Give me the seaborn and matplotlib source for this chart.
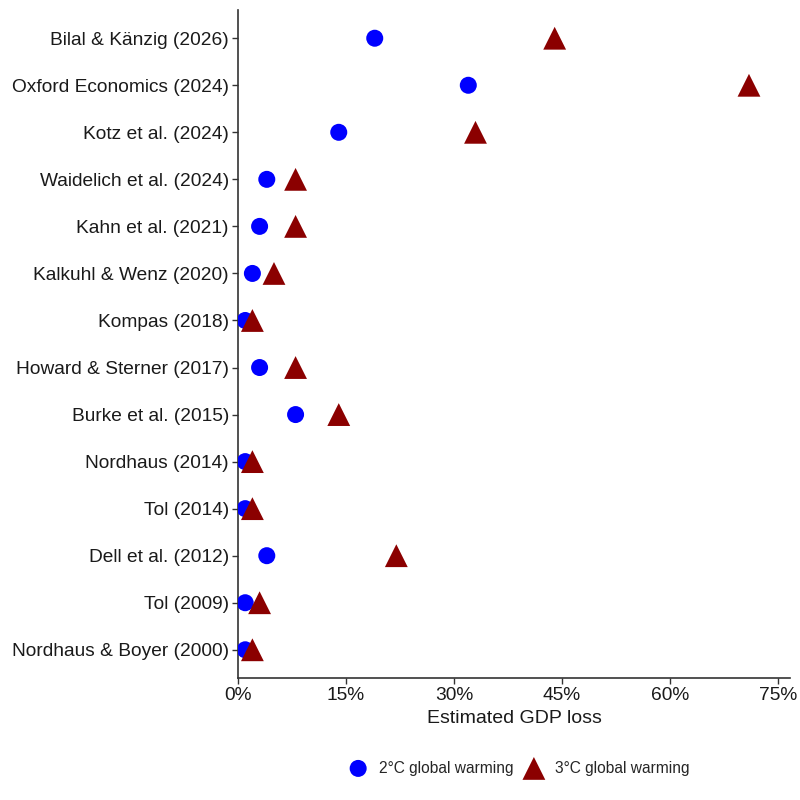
import matplotlib
matplotlib.use("Agg")
import matplotlib.pyplot as plt
import seaborn as sns
import pandas as pd
from matplotlib.ticker import FuncFormatter

studies = ["Bilal & Känzig (2026)", "Oxford Economics (2024)", "Kotz et al. (2024)",
           "Waidelich et al. (2024)", "Kahn et al. (2021)", "Kalkuhl & Wenz (2020)",
           "Kompas (2018)", "Howard & Sterner (2017)", "Burke et al. (2015)",
           "Nordhaus (2014)", "Tol (2014)", "Dell et al. (2012)", "Tol (2009)",
           "Nordhaus & Boyer (2000)"]
loss_2c = [19.0, 32.0, 14.0, 4.0, 3.0, 2.0, 1.0, 3.0, 8.0, 1.0, 1.0, 4.0, 1.0, 1.0]
loss_3c = [44.0, 71.0, 33.0, 8.0, 8.0, 5.0, 2.0, 8.0, 14.0, 2.0, 2.0, 22.0, 3.0, 2.0]
x_ticks = [0, 15, 30, 45, 60, 75]

sns.set_theme(style="ticks")
plt.rcParams['font.family'] = ['Liberation Sans', 'DejaVu Sans']

df2 = pd.DataFrame({"study": studies, "loss": loss_2c})
df3 = pd.DataFrame({"study": studies, "loss": loss_3c})

fig = plt.figure(figsize=(8, 8), dpi=100)
ax = fig.add_axes([0.2975, 0.1525, 0.69, 0.835])

sns.scatterplot(data=df2, x="loss", y="study", ax=ax, color="#0000FF", marker="o",
                s=150, edgecolor="none", label="2°C global warming", zorder=3)
sns.scatterplot(data=df3, x="loss", y="study", ax=ax, color="#8B0000", marker="^",
                s=270, edgecolor="none", label="3°C global warming", zorder=4)

ax.set_ylim(len(studies) - 0.4, -0.6)
ax.set_xlim(0, 76.7)
ax.set_xticks(x_ticks)
ax.xaxis.set_major_formatter(FuncFormatter(lambda v, p: f"{v:.0f}%"))
ax.set_ylabel("")
ax.set_xlabel("Estimated GDP loss", fontsize=14, color="#1a1a1a", labelpad=4)
ax.tick_params(axis="both", labelsize=13.8, colors="#333333", labelcolor="#1a1a1a",
               length=4, width=1)
ax.tick_params(axis="y", pad=2.5)
ax.tick_params(axis="x", pad=2.5)
for s in ["top", "right"]:
    ax.spines[s].set_visible(False)
for s in ["left", "bottom"]:
    ax.spines[s].set_color("#333333")
    ax.spines[s].set_linewidth(1.2)

handles, labels = ax.get_legend_handles_labels()
ax.get_legend().remove()
fig.legend(handles, labels, loc="center", bbox_to_anchor=(516 / 800, 0.04), ncol=2,
           frameon=False, fontsize=11.2, handletextpad=0.35, columnspacing=0.3,
           markerscale=1.0)

fig.savefig("out.png", dpi=100)
